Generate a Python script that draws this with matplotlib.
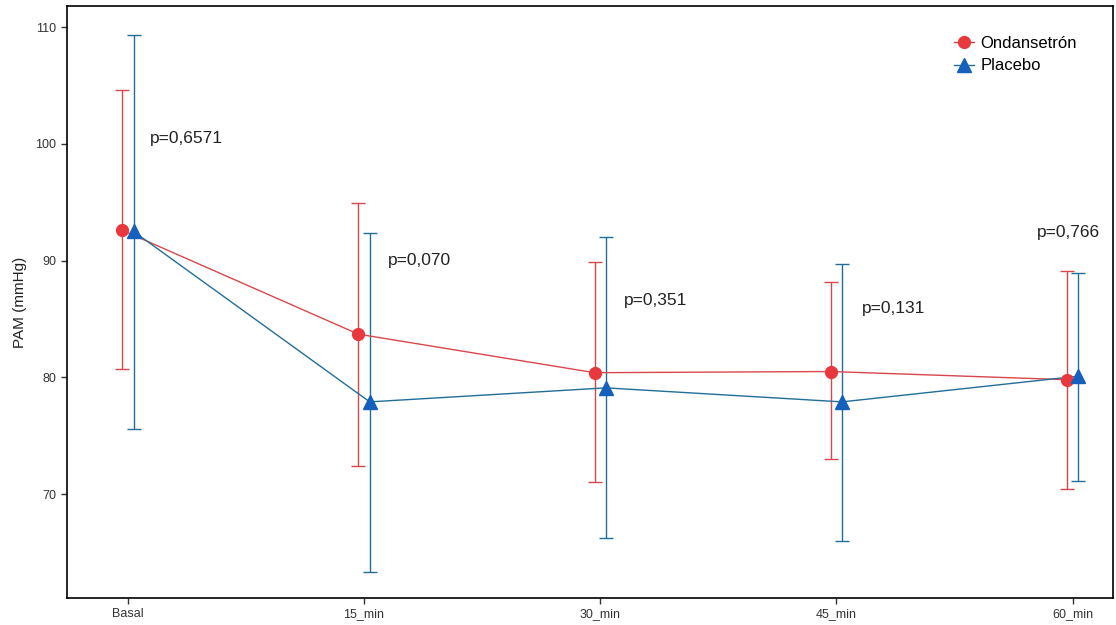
import numpy as np
import matplotlib
matplotlib.use("Agg")
import matplotlib.pyplot as plt

plt.rcParams['font.family'] = ['Liberation Sans', 'DejaVu Sans']

# data
categories = ['Basal', '15_min', '30_min', '45_min', '60_min']
ond_mean = [92.6, 83.7, 80.4, 80.5, 79.8]
ond_upper = [104.6, 94.9, 89.9, 88.2, 89.1]
ond_lower = [80.7, 72.4, 71.0, 73.0, 70.4]
pla_mean = [92.5, 77.9, 79.1, 77.9, 80.1]
pla_upper = [109.3, 92.4, 92.0, 89.7, 88.9]
pla_lower = [75.6, 63.3, 66.2, 66.0, 71.1]
p_labels = ['p=0,6571', 'p=0,070', 'p=0,351', 'p=0,131', 'p=0,766']
p_y = [100.5, 90.0, 86.6, 85.9, 92.4]

red_mark = '#E8383D'
red_line = '#D9474C'
blue_mark = '#1560BD'
blue_line = '#216E99'

fig = plt.figure(figsize=(11.16, 6.25), dpi=100)
ax = fig.add_axes([0.060, 0.0432, 0.937, 0.947])

x = np.arange(len(categories))
dodge = 0.024

def draw(xpos, mean, lower, upper, mcol, lcol, marker, ms, label):
    mean = np.array(mean)
    yerr = [mean - np.array(lower), np.array(upper) - mean]
    ax.errorbar(xpos, mean, yerr=yerr, fmt='none', ecolor=lcol, elinewidth=1.0,
                capsize=5, capthick=1.0, zorder=2)
    ax.plot(xpos, mean, color=lcol, lw=1.0, zorder=3)
    ax.plot(xpos, mean, linestyle='none', marker=marker, color=mcol, ms=ms,
            zorder=4)
    return ax.plot([], [], color=lcol, lw=1.0, marker=marker, markerfacecolor=mcol,
                   markeredgecolor=mcol, ms=ms, label=label)[0]

h1 = draw(x - dodge, ond_mean, ond_lower, ond_upper, red_mark, red_line, 'o', 8.5, 'Ondansetrón')
h2 = draw(x + dodge, pla_mean, pla_lower, pla_upper, blue_mark, blue_line, '^', 9.5, 'Placebo')

p_x = [0.093, 1.10, 2.10, 3.11, 3.85]
for px, py, lab in zip(p_x, p_y, p_labels):
    ax.text(px, py, lab, fontsize=12.5, color='#222222', va='center', ha='left')

ax.set_xlim(-0.258, 4.17)
ax.set_ylim(61.1, 111.8)
ax.set_xticks(x)
ax.set_xticklabels(categories)
ax.set_yticks([70, 80, 90, 100, 110])
ax.tick_params(axis='both', direction='out', length=4, width=1, colors='#333333',
               labelsize=9, labelcolor='#333333')
ax.set_ylabel('PAM (mmHg)', fontsize=11, color='#222222', labelpad=6)
for s in ax.spines.values():
    s.set_linewidth(1.2)
    s.set_color('black')

ax.legend(handles=[h1, h2], loc='upper right', frameon=False, fontsize=12,
          handlelength=1.2, handletextpad=0.4, labelspacing=0.45,
          bbox_to_anchor=(0.98, 0.975))

fig.savefig('out.png', dpi=100, facecolor='white')
